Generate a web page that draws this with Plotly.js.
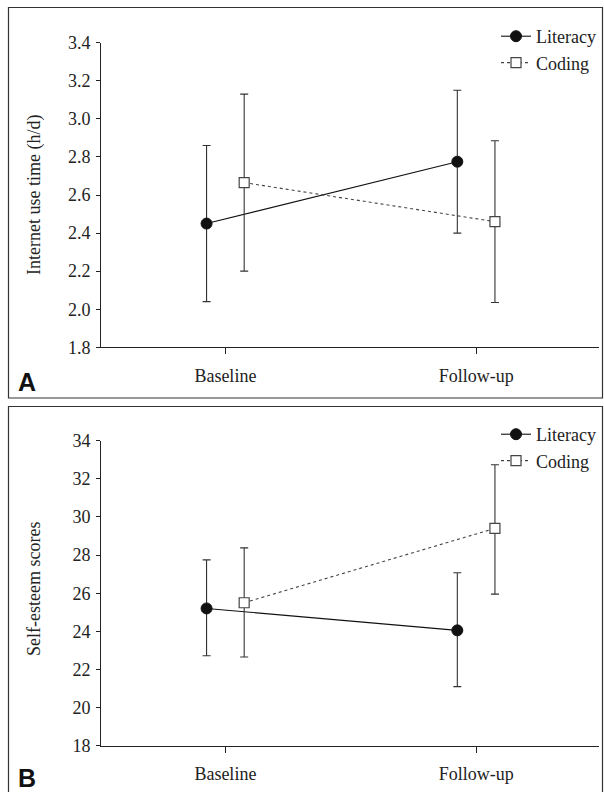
<!DOCTYPE html>
<html>
<head>
<meta charset="utf-8">
<script src="https://cdn.plot.ly/plotly-3.0.1.min.js"></script>
<style>html,body{margin:0;padding:0;background:#fff;}#chart{width:604px;height:792px;}</style>
</head>
<body>
<div id="chart"></div>
<script>
// ---- data ----
const timepoints = ["Baseline", "Follow-up"];
const seriesNames = ["Literacy", "Coding"];

// Panel A: Internet use time (h/d)
const internetLiteracyMean  = [2.45, 2.775];
const internetLiteracyUpper = [2.86, 3.15];
const internetLiteracyLower = [2.04, 2.40];
const internetCodingMean    = [2.665, 2.46];
const internetCodingUpper   = [3.13, 2.885];
const internetCodingLower   = [2.20, 2.035];

// Panel B: Self-esteem scores
const esteemLiteracyMean  = [25.2, 24.05];
const esteemLiteracyUpper = [27.75, 27.07];
const esteemLiteracyLower = [22.72, 21.1];
const esteemCodingMean    = [25.5, 29.4];
const esteemCodingUpper   = [28.38, 32.74];
const esteemCodingLower   = [22.65, 25.95];

const yTicksA = [1.8, 2.0, 2.2, 2.4, 2.6, 2.8, 3.0, 3.2, 3.4];
const yTicksB = [18, 20, 22, 24, 26, 28, 30, 32, 34];

// ---- helpers / styling ----
const W = 604, H = 792;
const px = x => x / W;
const py = y => 1 - y / H;
const OFFSET = 0.075;
const serif = "Liberation Serif";
const idx = timepoints.map((_, i) => i);

function mk(mean, upper, lower, off, style, xa, ya, legend, name, showleg) {
  return {
    type: "scatter", mode: "lines+markers", name: name,
    x: idx.map(i => i + off), y: mean,
    xaxis: xa, yaxis: ya, legend: legend, showlegend: showleg,
    line: style.line, marker: style.marker,
    error_y: {type: "data", symmetric: false,
      array: mean.map((m, i) => upper[i] - m),
      arrayminus: mean.map((m, i) => m - lower[i]),
      color: "#333", thickness: 1.1, width: 4}
  };
}
const litStyle = {line: {color: "#111", width: 1.1, dash: "solid"},
  marker: {symbol: "circle", size: 11, color: "#111", line: {color: "#111", width: 1}}};
const codStyle = {line: {color: "#444", width: 1.1, dash: "dot"},
  marker: {symbol: "square", size: 10, color: "#fff", line: {color: "#444", width: 1.2}}};

const traces = [
  mk(internetLiteracyMean, internetLiteracyUpper, internetLiteracyLower, -OFFSET, litStyle, "x", "y", "legend", seriesNames[0], true),
  mk(internetCodingMean, internetCodingUpper, internetCodingLower, OFFSET, codStyle, "x", "y", "legend", seriesNames[1], true),
  mk(esteemLiteracyMean, esteemLiteracyUpper, esteemLiteracyLower, -OFFSET, litStyle, "x2", "y2", "legend2", seriesNames[0], true),
  mk(esteemCodingMean, esteemCodingUpper, esteemCodingLower, OFFSET, codStyle, "x2", "y2", "legend2", seriesNames[1], true)
];

const xCommon = {
  type: "linear", range: [-0.496, 1.49], tickvals: idx, ticktext: timepoints,
  showgrid: false, zeroline: false, showline: true, linecolor: "#222", linewidth: 1,
  ticks: "outside", ticklen: 6, tickcolor: "#222", tickwidth: 1,
  tickfont: {family: serif, size: 18, color: "#222"}, ticklabelstandoff: 6,
  domain: [px(101), px(599)], fixedrange: true
};
function yCommon(range, ticks, top, bottom) {
  return {
    range: range, tickvals: ticks, ticktext: ticks.map(v => range[1] < 10 ? v.toFixed(1) : String(v)),
    showgrid: false, zeroline: false, showline: true, linecolor: "#222", linewidth: 1,
    ticks: "outside", ticklen: 4, tickcolor: "#222",
    tickfont: {family: serif, size: 18, color: "#222"}, ticklabelstandoff: 2,
    domain: [py(bottom), py(top)], fixedrange: true
  };
}

const legCommon = {
  font: {family: serif, size: 18, color: "#222"}, bgcolor: "rgba(0,0,0,0)",
  xanchor: "left", yanchor: "top", itemwidth: 30, tracegroupgap: 0
};

const layout = {
  width: W, height: H, margin: {l: 0, r: 0, t: 0, b: 0},
  paper_bgcolor: "#fff", plot_bgcolor: "rgba(0,0,0,0)",
  font: {family: serif},
  xaxis: Object.assign({}, xCommon, {anchor: "y"}),
  yaxis: Object.assign(yCommon([1.8, 3.4], yTicksA, 42.7, 347.3), {anchor: "x"}),
  xaxis2: Object.assign({}, xCommon, {anchor: "y2"}),
  yaxis2: Object.assign(yCommon([18, 34], yTicksB, 440.7, 745.7), {anchor: "x2"}),
  legend: Object.assign({}, legCommon, {x: px(496), y: py(18)}),
  legend2: Object.assign({}, legCommon, {x: px(496), y: py(416)}),
  shapes: [
    {type: "rect", xref: "paper", yref: "paper", x0: px(8.5), x1: px(602.5), y0: py(398), y1: py(7.5),
     line: {color: "#333", width: 1.2}},
    {type: "rect", xref: "paper", yref: "paper", x0: px(8.5), x1: px(602.5), y0: py(800), y1: py(406.5),
     line: {color: "#333", width: 1.2}}
  ],
  annotations: [
    {text: "Internet use time (h/d)", textangle: -90, xref: "paper", yref: "paper",
     x: px(34), y: py(195), xanchor: "center", yanchor: "middle", showarrow: false,
     font: {family: serif, size: 18, color: "#222"}},
    {text: "Self-esteem scores", textangle: -90, xref: "paper", yref: "paper",
     x: px(34), y: py(589), xanchor: "center", yanchor: "middle", showarrow: false,
     font: {family: serif, size: 18, color: "#222"}},
    {text: "<b>A</b>", xref: "paper", yref: "paper", x: px(27), y: py(382),
     xanchor: "center", yanchor: "middle", showarrow: false,
     font: {family: "Liberation Sans", size: 25, color: "#111"}},
    {text: "<b>B</b>", xref: "paper", yref: "paper", x: px(27), y: py(778),
     xanchor: "center", yanchor: "middle", showarrow: false,
     font: {family: "Liberation Sans", size: 25, color: "#111"}}
  ]
};

Plotly.newPlot("chart", traces, layout, {staticPlot: true, displayModeBar: false});
</script>
</body>
</html>
